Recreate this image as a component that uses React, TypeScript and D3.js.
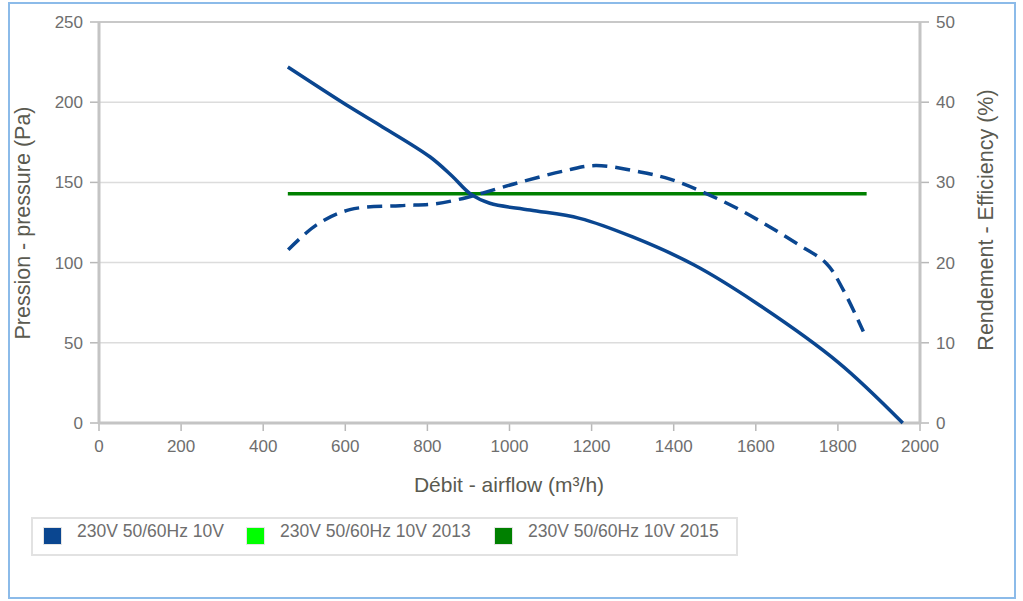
import React from "react";
import * as d3 from "d3";

const flowTicks = [0, 200, 400, 600, 800, 1000, 1200, 1400, 1600, 1800, 2000];
const pressureTicks = [0, 50, 100, 150, 200, 250];
const efficiencyTicks = [0, 10, 20, 30, 40, 50];

const pressureFlow = [460, 611, 685, 806, 860, 904, 952, 1050, 1171, 1300, 1450, 1600, 1800, 1958];
const pressureValues = [222, 197, 185.5, 166, 154, 143, 137, 132.8, 127.6, 116, 98.5, 75, 38, 0];

const effFlow = [461, 530, 611, 733, 814, 887, 936, 1017, 1139, 1210, 1318, 1391, 1471, 1553, 1626, 1699, 1772, 1813, 1862];
const effValues = [21.6, 24.7, 26.6, 27.1, 27.3, 28.0, 28.7, 29.9, 31.5, 32.1, 31.3, 30.4, 28.8, 26.8, 24.7, 22.4, 19.9, 16.6, 11.4];

const limitFlow = [460, 1870];
const limitValues = [28.6, 28.6];

const legendLabels = ["230V 50/60Hz 10V", "230V 50/60Hz 10V 2013", "230V 50/60Hz 10V 2015"];
const legendColors = ["#0a4690", "#00ff00", "#008000"];

export default function App() {
  const left = 99, right = 920, top = 22, bottom = 423;
  const x = d3.scaleLinear().domain([0, 2000]).range([left, right]);
  const yP = d3.scaleLinear().domain([0, 250]).range([bottom, top]);
  const yE = d3.scaleLinear().domain([0, 50]).range([bottom, top]);
  const font = "'Liberation Sans', Arial, sans-serif";
  const tickColor = "#6e6e6e";
  const titleColor = "#5a5a50";

  const curve = d3.curveCatmullRom.alpha(0.5);
  const pLine = d3.line<number>().x((d, i) => x(pressureFlow[i])).y((d) => yP(d)).curve(curve)(pressureValues) || "";
  const eLine = d3.line<number>().x((d, i) => x(effFlow[i])).y((d) => yE(d)).curve(curve)(effValues) || "";
  const gLine = d3.line<number>().x((d, i) => x(limitFlow[i])).y((d) => yE(d))(limitValues) || "";

  const legendX = [44, 247, 495];

  return (
    <svg width={1023} height={601} style={{ position: "absolute", left: 0, top: 0 }} fontFamily={font}>
      <rect x={0} y={0} width={1023} height={601} fill="#fff" />
      <rect x={9} y={3} width={1006} height={595} fill="none" stroke="#8cbbe9" strokeWidth={2} />
      {pressureTicks.map((t) => (
        <g key={"p" + t}>
          {t > 0 && <line x1={left} x2={right} y1={yP(t)} y2={yP(t)} stroke={t === 250 ? "#c8c8c8" : "#dcdcdc"} strokeWidth={t === 250 ? 2 : 1.5} />}
          <line x1={90} x2={left} y1={yP(t)} y2={yP(t)} stroke="#b8b8b8" strokeWidth={1.5} />
          <text x={83} y={yP(t)} dy="0.35em" textAnchor="end" fontSize={17} fill={tickColor}>{t}</text>
        </g>
      ))}
      {efficiencyTicks.map((t) => (
        <g key={"e" + t}>
          <line x1={right} x2={929} y1={yE(t)} y2={yE(t)} stroke="#b8b8b8" strokeWidth={1.5} />
          <text x={936} y={yE(t)} dy="0.35em" textAnchor="start" fontSize={17} fill={tickColor}>{t}</text>
        </g>
      ))}
      {flowTicks.map((t) => (
        <g key={"f" + t}>
          <line x1={x(t)} x2={x(t)} y1={bottom} y2={431} stroke="#b8b8b8" strokeWidth={1.5} />
          <text x={x(t)} y={446} dy="0.35em" textAnchor="middle" fontSize={17} fill={tickColor}>{t}</text>
        </g>
      ))}
      <line x1={left} x2={left} y1={top} y2={bottom + 1} stroke="#c4c4c4" strokeWidth={3} />
      <line x1={right} x2={right} y1={top} y2={bottom + 1} stroke="#c4c4c4" strokeWidth={3} />
      <line x1={left - 1} x2={right + 1} y1={bottom} y2={bottom} stroke="#c4c4c4" strokeWidth={3} />

      <path d={gLine} fill="none" stroke="#008000" strokeWidth={3.5} />
      <path d={eLine} fill="none" stroke="#0a4690" strokeWidth={3.5} strokeDasharray="15 8" />
      <path d={pLine} fill="none" stroke="#0a4690" strokeWidth={3.5} />

      <text x={509} y={485} dy="0.35em" textAnchor="middle" fontSize={21} fill={titleColor}>Débit - airflow (m³/h)</text>
      <text transform={`translate(22,223) rotate(-90)`} dy="0.35em" textAnchor="middle" fontSize={21.5} fill={titleColor}>Pression - pressure (Pa)</text>
      <text transform={`translate(985,220) rotate(-90)`} dy="0.35em" textAnchor="middle" fontSize={21.5} fill={titleColor}>Rendement - Efficiency (%)</text>

      <rect x={32} y={518} width={705} height={37} fill="#fff" stroke="#e2e2e2" strokeWidth={2} />
      {legendX.map((lx, i) => (
        <g key={legendLabels[i]}>
          <rect x={lx - 1} y={527} width={19} height={18} fill="#e4e4e4" />
          <rect x={lx} y={528} width={17} height={16} fill={legendColors[i]} />
          <text x={lx + 33} y={531} dy="0.35em" fontSize={17.5} fill={tickColor}>{legendLabels[i]}</text>
        </g>
      ))}
    </svg>
  );
}
